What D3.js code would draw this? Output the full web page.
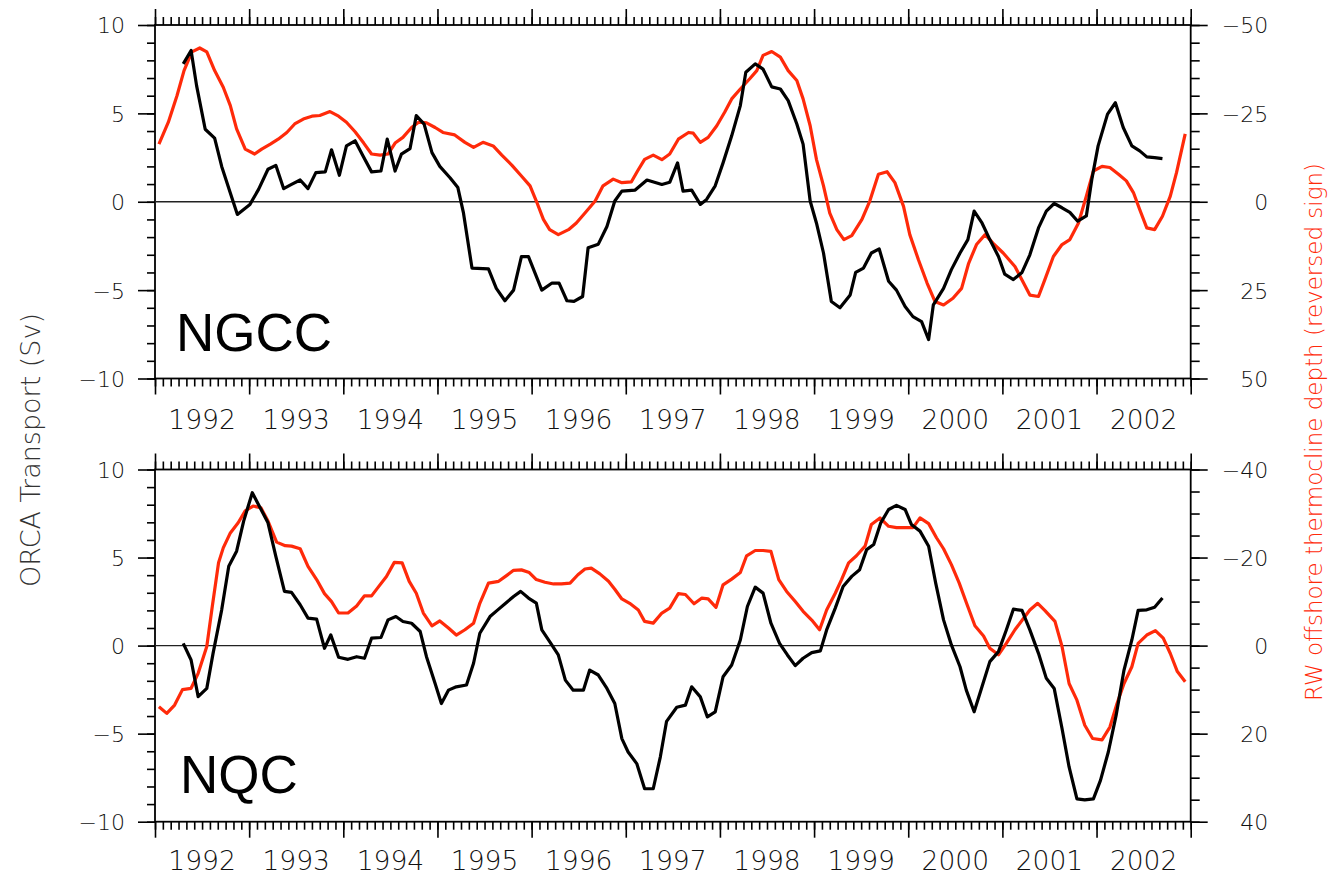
<!DOCTYPE html>
<html>
<head>
<meta charset="utf-8">
<script src="https://cdn.jsdelivr.net/npm/d3@7"></script>
<style>
  body { margin: 0; background: #fff; }
  svg { display: block; }
  .tick text { font-family: "DejaVu Sans", sans-serif; font-weight: 200; }
</style>
</head>
<body>
<svg id="chart" width="1330" height="877"></svg>
<script>
// Year labels along the time axis (labels sit in the middle of each year)
const years = [1992, 1993, 1994, 1995, 1996, 1997, 1998, 1999, 2000, 2001, 2002];

// ORCA model transport (Sv): [months since Jan 1992, transport]
const ngccOrca = [[3.6,7.8],[4.6,8.56],[5.3,6.57],[6.4,4.1],[7.6,3.6],[8.5,2.0],[9.6,0.5],[10.5,-0.72],[12.1,-0.15],[13.2,0.7],[14.4,1.84],[15.4,2.06],[16.4,0.74],[17.4,0.98],[18.5,1.23],[19.5,0.74],[20.5,1.65],[21.7,1.69],[22.5,2.94],[23.5,1.5],[24.4,3.16],[25.5,3.45],[26.5,2.6],[27.6,1.69],[28.8,1.74],[29.6,3.54],[30.6,1.74],[31.4,2.69],[32.5,3.0],[33.3,4.87],[34.3,4.39],[35.3,2.78],[36.3,2.0],[37.6,1.36],[38.6,0.8],[39.3,-0.6],[40.4,-3.75],[42.5,-3.8],[43.5,-4.9],[44.6,-5.6],[45.7,-5.0],[46.7,-3.1],[47.6,-3.1],[49.3,-5.0],[50.6,-4.6],[51.5,-4.6],[52.5,-5.6],[53.4,-5.64],[54.5,-5.36],[55.2,-2.6],[56.5,-2.4],[57.6,-1.4],[58.6,0.04],[59.5,0.6],[61.2,0.66],[62.7,1.23],[64.6,0.98],[65.6,1.1],[66.6,2.2],[67.3,0.6],[68.4,0.66],[69.5,-0.15],[70.3,0.13],[71.4,0.9],[72.4,2.2],[73.5,3.73],[74.6,5.44],[75.3,7.33],[76.5,7.8],[77.5,7.5],[78.6,6.5],[79.7,6.38],[80.7,5.72],[81.8,4.4],[82.6,3.26],[83.5,0.04],[84.3,-1.2],[85.2,-2.9],[86.2,-5.64],[87.3,-6.0],[88.6,-5.27],[89.3,-4.0],[90.3,-3.75],[91.3,-2.9],[92.3,-2.67],[93.5,-4.5],[94.5,-5.0],[95.6,-5.93],[96.6,-6.5],[97.7,-6.78],[98.6,-7.8],[99.2,-5.83],[100.5,-4.9],[101.5,-3.84],[102.6,-2.9],[103.6,-2.14],[104.4,-0.53],[105.4,-1.2],[106.4,-2.14],[107.5,-3.1],[108.3,-4.1],[109.4,-4.4],[110.5,-4.0],[111.5,-3.0],[112.6,-1.48],[113.6,-0.53],[114.6,-0.1],[115.6,-0.34],[116.6,-0.6],[117.6,-1.1],[118.7,-0.8],[119.4,1.27],[120.2,3.16],[121.4,4.96],[122.4,5.6],[123.4,4.2],[124.5,3.16],[125.5,2.88],[126.4,2.54],[127.4,2.5],[128.4,2.44]];

const nqcOrca = [[3.6,0.13],[4.6,-0.82],[5.5,-2.9],[6.6,-2.43],[7.4,-0.44],[8.5,2.03],[9.4,4.5],[10.4,5.36],[11.3,7.07],[12.4,8.68],[13.4,7.83],[14.4,6.97],[15.4,5.07],[16.5,3.08],[17.4,3.02],[18.5,2.32],[19.5,1.56],[20.6,1.5],[21.6,-0.15],[22.4,0.61],[23.4,-0.66],[24.6,-0.78],[25.7,-0.63],[26.7,-0.72],[27.6,0.42],[28.8,0.46],[29.7,1.46],[30.7,1.65],[31.6,1.37],[32.7,1.27],[33.8,0.8],[34.6,-0.63],[35.7,-2.15],[36.5,-3.29],[37.4,-2.53],[38.4,-2.34],[39.7,-2.24],[40.6,-1.0],[41.4,0.7],[42.7,1.65],[43.8,2.07],[44.8,2.45],[45.7,2.79],[46.6,3.08],[47.6,2.7],[48.6,2.41],[49.3,0.89],[50.3,0.23],[51.4,-0.53],[52.3,-1.96],[53.3,-2.53],[54.6,-2.53],[55.4,-1.39],[56.5,-1.67],[57.6,-2.43],[58.6,-3.29],[59.5,-5.28],[60.3,-6.04],[61.4,-6.7],[62.4,-8.13],[63.5,-8.13],[64.4,-6.33],[65.2,-4.3],[66.5,-3.5],[67.6,-3.38],[68.4,-2.34],[69.5,-2.91],[70.4,-4.05],[71.4,-3.76],[72.4,-1.77],[73.5,-1.1],[74.6,0.32],[75.5,2.22],[76.5,3.32],[77.5,2.98],[78.5,1.27],[79.6,0.13],[80.6,-0.53],[81.6,-1.14],[82.6,-0.72],[83.7,-0.4],[84.8,-0.3],[85.6,0.89],[86.7,2.13],[87.7,3.36],[88.8,3.93],[89.8,4.31],[90.7,5.45],[91.6,5.74],[92.5,6.97],[93.5,7.73],[94.5,7.96],[95.6,7.73],[96.4,6.88],[97.5,6.5],[98.6,5.64],[99.5,3.55],[100.5,1.46],[101.5,0.04],[102.6,-1.2],[103.4,-2.53],[104.4,-3.76],[105.4,-2.34],[106.4,-0.91],[107.5,-0.34],[108.5,0.89],[109.4,2.07],[110.5,2.0],[111.5,0.89],[112.6,-0.44],[113.6,-1.86],[114.6,-2.43],[115.6,-4.71],[116.5,-6.89],[117.5,-8.7],[118.5,-8.76],[119.6,-8.7],[120.5,-7.65],[121.5,-6.04],[122.5,-3.95],[123.5,-1.39],[124.5,0.32],[125.3,2.0],[126.4,2.03],[127.4,2.18],[128.4,2.7]];

// RW model offshore thermocline depth anomaly (m): [months since Jan 1992, depth]
const ngccRw = [[0.5,-16.3],[1.7,-22.5],[2.8,-30.0],[3.7,-37.1],[4.7,-42.4],[5.7,-43.5],[6.6,-42.4],[7.6,-37.1],[8.7,-32.4],[9.6,-27.2],[10.4,-20.6],[11.5,-14.9],[12.7,-13.5],[13.6,-14.9],[14.7,-16.3],[15.7,-17.7],[16.8,-19.6],[17.8,-22.0],[18.9,-23.4],[20.0,-24.2],[21.0,-24.4],[22.3,-25.5],[23.4,-24.2],[24.4,-22.5],[25.5,-19.8],[26.6,-16.6],[27.6,-13.5],[28.7,-13.2],[29.7,-13.5],[30.6,-16.6],[31.6,-18.2],[32.7,-21.0],[33.6,-22.5],[34.6,-22.3],[35.7,-21.0],[36.7,-19.6],[38.2,-18.9],[39.5,-16.8],[40.6,-15.4],[41.8,-16.8],[43.1,-15.8],[44.2,-13.2],[45.5,-10.3],[46.7,-7.3],[47.8,-4.5],[48.6,-0.2],[49.5,5.0],[50.3,7.9],[51.4,9.3],[52.7,7.9],[53.7,6.0],[54.8,3.2],[56.1,-0.2],[57.1,-4.5],[58.4,-6.4],[59.5,-5.4],[60.7,-5.6],[61.5,-8.7],[62.4,-12.0],[63.5,-13.2],[64.6,-11.9],[65.6,-13.5],[66.7,-17.7],[68.0,-19.6],[68.6,-19.4],[69.5,-16.8],[70.5,-18.2],[71.6,-21.5],[72.6,-25.3],[73.5,-29.1],[74.6,-31.9],[75.8,-34.8],[76.7,-37.1],[77.5,-41.4],[78.6,-42.5],[79.7,-40.9],[80.7,-37.1],[81.8,-34.3],[82.6,-29.1],[83.5,-21.5],[84.3,-12.0],[85.2,-4.5],[86.0,3.2],[86.9,7.9],[87.8,10.7],[88.8,9.6],[90.1,5.0],[91.1,-0.2],[92.2,-7.8],[93.3,-8.5],[94.3,-5.4],[95.4,1.3],[96.2,9.3],[97.3,16.4],[98.4,23.0],[99.4,28.2],[100.5,29.2],[101.7,27.3],[102.8,24.5],[103.7,17.4],[104.7,12.1],[105.8,9.3],[106.8,11.7],[108.1,14.5],[109.6,18.3],[110.7,23.0],[111.5,26.4],[112.6,26.8],[113.4,22.1],[114.5,15.5],[115.6,12.1],[116.6,10.7],[117.7,6.0],[118.7,-1.6],[119.6,-8.7],[120.7,-10.0],[121.7,-9.7],[122.8,-7.8],[123.8,-5.9],[124.7,-2.6],[125.5,2.2],[126.4,7.4],[127.4,7.9],[128.4,4.1],[129.4,-1.6],[130.2,-8.3],[131.3,-19.2]];

const nqcRw = [[0.5,13.9],[1.5,15.4],[2.5,13.5],[3.5,10.0],[4.6,9.7],[5.5,6.3],[6.6,0.2],[7.3,-8.9],[8.1,-18.8],[8.7,-22.2],[9.6,-25.6],[10.6,-27.9],[11.5,-30.6],[12.5,-31.7],[13.5,-31.3],[14.4,-28.3],[15.5,-23.5],[16.6,-22.7],[17.4,-22.6],[18.5,-22.0],[19.5,-18.0],[20.6,-15.0],[21.6,-11.8],[22.5,-10.0],[23.4,-7.4],[24.6,-7.4],[25.7,-9.0],[26.7,-11.3],[27.6,-11.3],[28.5,-13.4],[29.5,-15.7],[30.5,-18.9],[31.5,-18.8],[32.4,-14.6],[33.3,-11.9],[34.2,-7.4],[35.3,-4.5],[36.3,-5.6],[37.4,-4.0],[38.4,-2.4],[39.5,-3.6],[40.6,-5.1],[41.4,-9.6],[42.5,-14.2],[43.8,-14.6],[44.8,-15.9],[45.7,-17.1],[46.7,-17.2],[47.7,-16.6],[48.6,-15.0],[49.7,-14.4],[50.8,-14.0],[51.8,-14.0],[52.9,-14.2],[53.9,-16.1],[54.8,-17.4],[55.6,-17.6],[56.7,-16.3],[57.8,-14.6],[58.6,-12.8],[59.5,-10.6],[60.5,-9.6],[61.6,-8.1],[62.4,-5.5],[63.5,-5.1],[64.6,-7.4],[65.6,-8.5],[66.7,-11.8],[67.6,-11.6],[68.7,-9.5],[69.7,-10.8],[70.5,-10.6],[71.5,-8.7],[72.4,-13.8],[73.5,-15.1],[74.6,-16.6],[75.4,-20.4],[76.5,-21.6],[77.5,-21.6],[78.5,-21.4],[79.5,-15.0],[80.5,-12.3],[81.6,-10.0],[82.6,-7.8],[83.7,-5.8],[84.7,-3.6],[85.6,-8.1],[86.7,-11.9],[87.5,-15.0],[88.4,-18.8],[89.4,-20.4],[90.5,-22.6],[91.3,-27.5],[92.4,-29.0],[93.5,-27.1],[94.5,-26.8],[95.6,-26.8],[96.6,-26.8],[97.5,-29.0],[98.6,-27.7],[99.6,-24.5],[100.5,-22.0],[101.5,-18.4],[102.5,-14.2],[103.4,-9.8],[104.5,-4.5],[105.6,-2.2],[106.4,0.6],[107.5,2.1],[108.5,-0.5],[109.6,-3.6],[110.7,-6.2],[111.5,-8.1],[112.5,-9.6],[113.4,-8.0],[114.7,-5.5],[115.6,0.2],[116.5,8.6],[117.5,12.4],[118.5,18.1],[119.5,21.1],[120.7,21.4],[121.7,18.5],[122.6,13.2],[123.5,8.6],[124.5,4.8],[125.3,-0.5],[126.4,-2.4],[127.5,-3.4],[128.5,-1.7],[129.4,1.8],[130.3,5.9],[131.3,8.2]];

// Axis tick values
const transportTicks = [-10, -5, 0, 5, 10];
const ngccDepthTicks = [-50, -25, 0, 25, 50];
const nqcDepthTicks = [-40, -20, 0, 20, 40];
const panelNames = ["NGCC", "NQC"];

const RED = "#ff2a0a";
const svg = d3.select("#chart");
const plotLeft = 155, plotRight = 1190.7;

const x = d3.scaleLinear().domain([1992, 2003]).range([plotLeft, plotRight]);
const monthTicks = d3.range(0, 133).map(i => 1992 + i / 12);
const yearTicks = d3.range(1992, 2004);

const panels = [
  { name: panelNames[0], top: 25, bottom: 378.5, orca: ngccOrca, rw: ngccRw,
    depthTicks: ngccDepthTicks, labelX: 176, labelY: 351, yearY: 429 },
  { name: panelNames[1], top: 469.5, bottom: 821.7, orca: nqcOrca, rw: nqcRw,
    depthTicks: nqcDepthTicks, labelX: 180, labelY: 793, yearY: 870 }
];

function styleAxis(g, width) {
  g.select(".domain").remove();
  g.selectAll(".tick line").attr("stroke", "#000").attr("stroke-width", width);
}

panels.forEach(p => {
  const yL = d3.scaleLinear().domain([-10, 10]).range([p.bottom, p.top]);
  const dMax = d3.max(p.depthTicks);
  const yR = d3.scaleLinear().domain([-dMax, dMax]).range([p.top, p.bottom]);
  const g = svg.append("g");

  // minor ticks (months / unit steps) and major ticks (years / labelled values)
  g.append("g").attr("transform", `translate(0,${p.top})`)
    .call(d3.axisTop(x).tickValues(monthTicks).tickSize(8).tickFormat(""))
    .call(a => styleAxis(a, 1.6));
  g.append("g").attr("transform", `translate(0,${p.top})`)
    .call(d3.axisTop(x).tickValues(yearTicks).tickSize(16).tickFormat(""))
    .call(a => styleAxis(a, 1.6));
  g.append("g").attr("transform", `translate(0,${p.bottom})`)
    .call(d3.axisBottom(x).tickValues(monthTicks).tickSize(8).tickFormat(""))
    .call(a => styleAxis(a, 1.6));
  g.append("g").attr("transform", `translate(0,${p.bottom})`)
    .call(d3.axisBottom(x).tickValues(yearTicks).tickSize(16).tickFormat(""))
    .call(a => styleAxis(a, 1.6));

  g.append("g").attr("transform", `translate(${plotLeft},0)`)
    .call(d3.axisLeft(yL).tickValues(d3.range(-10, 11)).tickSize(8).tickFormat(""))
    .call(a => styleAxis(a, 1.6));
  g.append("g").attr("transform", `translate(${plotLeft},0)`)
    .call(d3.axisLeft(yL).tickValues(transportTicks).tickSize(17).tickPadding(13))
    .call(a => styleAxis(a, 1.6))
    .call(a => a.selectAll("text").attr("font-size", 22).attr("fill", "#111")
      .attr("dy", "0.36em"));

  g.append("g").attr("transform", `translate(${plotRight},0)`)
    .call(d3.axisRight(yR).tickValues(d3.range(-dMax, dMax + 1, 5)).tickSize(9).tickFormat(""))
    .call(a => styleAxis(a, 1.6));
  g.append("g").attr("transform", `translate(${plotRight},0)`)
    .call(d3.axisRight(yR).tickValues(p.depthTicks).tickSize(17))
    .call(a => styleAxis(a, 1.6))
    .call(a => a.selectAll("text").attr("font-size", 22).attr("fill", "#111")
      .attr("text-anchor", "end").attr("x", 77.5).attr("dy", "0.36em"));

  // year labels centred in each year
  g.append("g").selectAll("text").data(years).join("text")
    .attr("x", d => x(d + 0.5)).attr("y", p.yearY)
    .attr("text-anchor", "middle")
    .attr("font-family", "DejaVu Sans, sans-serif").attr("font-weight", 200)
    .attr("font-size", 26.5).attr("fill", "#111")
    .text(d => d);

  // frame
  g.append("rect").attr("x", plotLeft).attr("y", p.top)
    .attr("width", plotRight - plotLeft).attr("height", p.bottom - p.top)
    .attr("fill", "none").attr("stroke", "#000").attr("stroke-width", 1.8);

  // zero line
  g.append("line").attr("x1", plotLeft).attr("x2", plotRight)
    .attr("y1", yL(0)).attr("y2", yL(0))
    .attr("stroke", "#222").attr("stroke-width", 1.4);

  const tx = d => x(1992 + d[0] / 12);
  g.append("path").datum(p.rw)
    .attr("d", d3.line().x(tx).y(d => yR(d[1])))
    .attr("fill", "none").attr("stroke", RED).attr("stroke-width", 3.2)
    .attr("stroke-linejoin", "round");
  g.append("path").datum(p.orca)
    .attr("d", d3.line().x(tx).y(d => yL(d[1])))
    .attr("fill", "none").attr("stroke", "#000").attr("stroke-width", 3.2)
    .attr("stroke-linejoin", "round");

  g.append("text").attr("x", p.labelX).attr("y", p.labelY)
    .attr("font-family", "Liberation Sans, Arial, sans-serif")
    .attr("font-size", 53).attr("fill", "#000").text(p.name);
});

// axis titles
svg.append("text")
  .attr("transform", "translate(40,450) rotate(-90)")
  .attr("text-anchor", "middle")
  .attr("font-family", "DejaVu Sans, sans-serif").attr("font-weight", 200)
  .attr("font-size", 27).attr("fill", "#333")
  .text("ORCA Transport (Sv)");

svg.append("text")
  .attr("transform", "translate(1322,432) rotate(-90)")
  .attr("text-anchor", "middle")
  .attr("font-family", "DejaVu Sans, sans-serif").attr("font-weight", 200)
  .attr("font-size", 23).attr("fill", RED)
  .text("RW offshore thermocline depth (reversed sign)");
</script>
</body>
</html>
